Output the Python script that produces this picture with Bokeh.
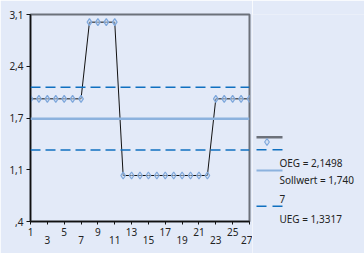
from bokeh.plotting import figure
from bokeh.layouts import row
from bokeh.models import Range1d, FixedTicker, Span
from bokeh.core.properties import value
from bokeh.embed import file_html
from bokeh.resources import INLINE

# ---- data ----
samples = list(range(1, 28))
measurements = [2.0, 2.0, 2.0, 2.0, 2.0, 2.0, 2.0,
                3.0, 3.0, 3.0, 3.0,
                1.0, 1.0, 1.0, 1.0, 1.0, 1.0, 1.0, 1.0, 1.0, 1.0, 1.0,
                2.0, 2.0, 2.0, 2.0, 2.0]
oeg = 2.1498
sollwert = 1.7407
ueg = 1.3317
y_ticks = [0.4, 1.075, 1.75, 2.425, 3.1]
y_tick_labels = [",4", "1,1", "1,7", "2,4", "3,1"]
x_ticks = [1, 3, 5, 7, 9, 11, 13, 15, 17, 19, 21, 23, 25, 27]
x_tick_labels = ["1", "\n3", "5", "\n7", "9", "\n11", "13", "\n15", "17", "\n19",
                 "21", "\n23", "25", "\n27"]
legend_labels = ["OEG = 2,1498", "Sollwert = 1,740\n7", "UEG = 1,3317"]

BG = "#e3eaf8"
FONT = "Noto Sans"
BLUE = "#1070c0"
LIGHTBLUE = "#8cb2de"

p = figure(frame_width=219, frame_height=207, output_backend="svg", toolbar_location=None,
           x_range=Range1d(1, 27), y_range=Range1d(0.4, 3.1), title=None,
           min_border_left=30, min_border_right=3, min_border_top=14, min_border_bottom=32)
p.background_fill_color = BG
p.border_fill_color = BG
p.outline_line_color = "#6c717a"
p.outline_line_width = 2
p.xgrid.visible = False
p.ygrid.visible = False

for ax in (p.xaxis[0], p.yaxis[0]):
    ax.axis_line_color = "#111111"
    ax.axis_line_width = 1.5
    ax.major_tick_line_color = "#111111"
    ax.minor_tick_line_color = None
    ax.major_tick_in = 0
    ax.major_label_text_font = FONT
    ax.major_label_text_font_size = "10px"
    ax.major_label_text_color = "#222222"

p.yaxis.ticker = FixedTicker(ticks=y_ticks)
p.yaxis.major_label_overrides = dict(zip(y_ticks, y_tick_labels))
p.yaxis.major_tick_out = 4
p.yaxis.major_label_standoff = 3

p.xaxis.ticker = FixedTicker(ticks=x_ticks)
p.xaxis.major_label_overrides = dict(zip(x_ticks, x_tick_labels))
p.xaxis.major_tick_out = 3
p.xaxis.major_label_standoff = 0
p.xaxis.major_label_text_line_height = 0.6

# limit lines
p.add_layout(Span(location=oeg, dimension="width", line_color=BLUE,
                  line_width=1.5, line_dash="10 5"))
p.add_layout(Span(location=sollwert, dimension="width", line_color=LIGHTBLUE,
                  line_width=2.5))
p.add_layout(Span(location=ueg, dimension="width", line_color=BLUE,
                  line_width=1.5, line_dash="10 5"))

p.line(samples, measurements, line_color="#111111", line_width=1)
p.scatter(samples, measurements, marker="diamond", size=7,
          line_color="#7fa8dc", line_width=1.2, fill_color="#c8d9f2", fill_alpha=0.5)

# ---- legend panel (frame top aligned with the plot frame) ----
lg = figure(frame_width=112, frame_height=239, output_backend="svg", toolbar_location=None,
            x_range=Range1d(0, 112), y_range=Range1d(253, 14), title=None,
            x_axis_location=None, y_axis_location=None,
            min_border_left=0, min_border_right=0, min_border_top=14, min_border_bottom=0)
lg.grid.visible = False
lg.outline_line_color = None
lg.background_fill_color = BG
lg.border_fill_color = BG

lg.segment(x0=[4], y0=[136.7], x1=[30], y1=[136.7], line_color="#6c717a", line_width=2.5)
lg.scatter(x=[14.5], y=[141.5], marker="diamond", size=7,
           line_color="#7fa8dc", line_width=1.2, fill_color="#c8d9f2", fill_alpha=0.5)
lg.segment(x0=[4, 20], y0=[149.3, 149.3], x1=[14, 30], y1=[149.3, 149.3],
           line_color=BLUE, line_width=1.5)
lg.segment(x0=[4], y0=[170], x1=[30], y1=[170], line_color=LIGHTBLUE, line_width=2)
lg.segment(x0=[4, 20], y0=[205.7, 205.7], x1=[14, 30], y1=[205.7, 205.7],
           line_color=BLUE, line_width=1.5)

lg.text(x=[27, 27, 27], y=[162.7, 189.3, 218.5], text=legend_labels,
        text_font=value(FONT), text_font_size="10px", text_color="#222222",
        text_baseline="middle", text_align="left", text_line_height=1.35)

layout = row(p, lg)
open("out.html", "w").write(file_html(layout, INLINE))
